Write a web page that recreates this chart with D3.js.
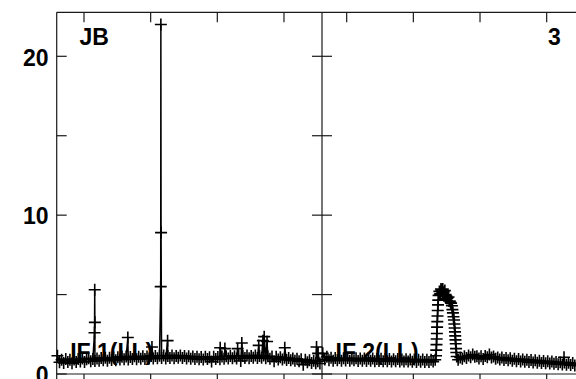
<!DOCTYPE html>
<html><head><meta charset="utf-8">
<script src="https://cdn.jsdelivr.net/npm/d3@7"></script>
<style>
body{margin:0;background:#fff}
svg{display:block}
text{font-family:"Liberation Sans",Arial,Helvetica,sans-serif;font-weight:bold;fill:#000}
</style>
</head><body>
<svg id="c" width="576" height="379"></svg>
<script>
// ---------- data ----------
const panelNames = ["IF 1(LL)", "IF 2(LL)"];
const sourceLabel = "JB";
const pageLabel = "3";
const yTickLabels = [0, 10, 20];
const yTickMarks = [0, 5, 10, 15, 20];
const xTickChannels = [128, 256, 384, 512];
const chanDomain1 = [75.6, 585];
const chanDomain2 = [80.6, 590];
const baseChanStart1 = 77, baseChanStart2 = 82, baseChanStep = 4;

// IF 1 amplitudes, every 4th channel starting at channel 77
const amp1 = [
1.15,0.74,0.90,0.70,0.94,0.76,0.89,0.68,0.92,0.75,
0.94,0.78,0.97,0.76,0.93,0.99,0.80,0.94,0.82,0.97,
0.84,1.01,0.86,1.02,0.83,1.03,0.88,1.04,0.86,1.06,
0.91,1.08,0.93,1.10,0.92,1.07,0.95,1.11,0.93,1.09,
0.96,1.12,0.94,1.10,0.98,1.14,0.97,1.13,0.99,1.15,
1.00,1.16,0.98,1.14,1.01,1.17,0.99,1.13,1.02,1.16,
1.00,1.14,0.98,1.12,0.96,1.10,0.94,1.08,0.93,1.07,
0.92,1.09,0.94,1.06,0.78,1.08,0.95,1.07,0.93,1.10,
0.96,1.11,0.97,1.14,0.99,1.12,0.98,1.15,0.82,1.13,
1.01,1.16,0.99,1.14,1.02,1.17,1.00,1.14,1.03,1.16,
0.99,1.12,0.96,1.10,0.80,1.08,0.92,1.06,0.91,1.03,
0.88,1.01,0.86,0.98,0.83,0.96,0.80,0.93,0.58,0.90,
0.74,0.87,0.70,0.84,0.68,0.81,0.66
];
// IF 1 isolated spikes / outliers (channel, amplitude)
const extraChan1 = [148.2,148.6,148.9,212.2,258.5,275.3,275.6,276.0,288.5,389.5,398.5,423.0,431.0,463.5,471.5,474.0,479.5,513.5,574.5,577.5];
const extraAmp1  = [2.6,  5.3,  3.25, 2.3,  1.7,  5.5,  22.0, 8.9,  2.1,  1.65, 1.6,  1.6,  1.95, 1.8,  2.1,  2.35, 2.05, 1.65, 1.7,  1.3];

// IF 2 amplitudes, every 4th channel starting at channel 82
const amp2 = [
1.30,0.91,1.09,0.86,1.02,0.84,1.00,0.86,1.01,0.84,
0.99,0.85,1.00,0.83,0.98,0.86,0.99,0.82,0.97,0.84,
0.98,0.82,0.96,0.83,0.97,0.81,0.95,0.82,0.96,0.80,
0.94,0.81,0.95,0.79,0.93,0.80,0.94,0.78,0.92,0.79,
0.93,0.78,0.91,0.77,0.92,0.76,0.90,0.77,0.91,0.76,
0.89,0.76,0.90,0.78,0.90,3.30,5.20,5.30,5.15,5.00,
4.80,4.60,4.30,3.40,1.60,0.90,1.04,0.96,1.12,1.01,
1.16,1.06,1.22,1.08,1.12,0.98,1.12,0.94,1.14,1.06,
1.22,1.04,1.10,0.96,1.04,0.91,1.04,0.88,1.01,0.86,
0.99,0.84,0.96,0.81,0.94,0.79,0.92,0.77,0.90,0.75,
0.88,0.73,0.86,0.71,0.84,0.69,0.82,0.67,0.80,0.66,
0.78,0.64,0.76,0.62,0.74,0.60,0.73,0.58,0.71,0.56,
0.69,0.54,0.67,0.53,0.65,0.51,0.64
];
// IF 2 line-feature points (channel, amplitude)
const extraChan2 = [299.6,300.0,300.4,300.8,301.2,301.6,302.4,302.8,303.3,303.8,304.5,
  307.5,309.0,311.5,312.5,315.5,316.5,319.5,
  320.5,323.5,324.5,327.5,328.5,331.0,332.0,333.0,334.7,335.3,335.9,336.4,336.9,337.4,338.5,339.2,
  545.3];
const extraAmp2  = [1.15,1.5,1.85,2.2,2.55,2.95,3.65,4.0,4.35,4.65,4.95,
  5.05,5.35,5.1,5.35,5.0,5.25,4.9,
  4.75,4.85,4.6,4.5,4.45,4.05,3.85,3.6,3.15,2.9,2.65,2.4,2.15,1.9,1.35,1.1,
  1.05];

// ---------- layout ----------
const frameLeft = 56.7, frameTop = 12.3, zeroY = 374, frameBottom = 384;
const panelW = 265.3;
const tickLen = 10, markSize = 6;

const svg = d3.select("#c");
const y = d3.scaleLinear().domain([0, 22.77]).range([zeroY, frameTop]);

function buildPoints(start, amps, ec, ea) {
  const pts = amps.map((v, i) => ({c: start + i * baseChanStep, v}));
  ec.forEach((c, i) => pts.push({c, v: ea[i]}));
  pts.sort((a, b) => a.c - b.c);
  return pts;
}

const panels = [
  {name: panelNames[0], dom: chanDomain1, pts: buildPoints(baseChanStart1, amp1, extraChan1, extraAmp1)},
  {name: panelNames[1], dom: chanDomain2, pts: buildPoints(baseChanStart2, amp2, extraChan2, extraAmp2)}
];

const frame = svg.append("g").attr("stroke", "#1a1a1a").attr("stroke-width", 1.2).attr("fill", "none");

panels.forEach((p, pi) => {
  const x0 = frameLeft + pi * panelW, x1 = x0 + panelW;
  p.x = d3.scaleLinear().domain(p.dom).range([x0, x1]);
  p.x0 = x0; p.x1 = x1;
  frame.append("line").attr("x1", x0).attr("x2", x1).attr("y1", frameTop).attr("y2", frameTop);
  frame.append("line").attr("x1", x0).attr("x2", x1).attr("y1", zeroY).attr("y2", zeroY);
  xTickChannels.forEach(t => {
    const xx = p.x(t);
    frame.append("line").attr("x1", xx).attr("x2", xx).attr("y1", frameTop).attr("y2", frameTop + tickLen);
    frame.append("line").attr("x1", xx).attr("x2", xx).attr("y1", zeroY).attr("y2", frameBottom);
  });
});

frame.append("line").attr("x1", frameLeft).attr("x2", frameLeft).attr("y1", frameTop).attr("y2", frameBottom);
const divX = frameLeft + panelW;
frame.append("line").attr("x1", divX).attr("x2", divX).attr("y1", frameTop).attr("y2", frameBottom);
yTickMarks.forEach(t => {
  const yy = y(t);
  frame.append("line").attr("x1", frameLeft).attr("x2", frameLeft + tickLen).attr("y1", yy).attr("y2", yy);
  frame.append("line").attr("x1", divX - tickLen).attr("x2", divX + tickLen).attr("y1", yy).attr("y2", yy);
});

svg.append("g").selectAll("text").data(yTickLabels).join("text")
  .attr("x", 48.5).attr("y", d => y(d) + 9.2)
  .attr("text-anchor", "end").attr("font-size", 23).text(d => d);

svg.append("text").attr("x", 79.5).attr("y", 45).attr("font-size", 23).text(sourceLabel);
svg.append("text").attr("x", 548).attr("y", 45).attr("font-size", 23).text(pageLabel);

panels.forEach(p => {
  svg.append("text").attr("x", p.x0 + 13.5).attr("y", 360).attr("font-size", 23).text(p.name);
});

panels.forEach(p => {
  const g = svg.append("g");
  const line = d3.line().x(d => p.x(d.c)).y(d => y(d.v));
  g.append("path").datum(p.pts).attr("d", line)
    .attr("fill", "none").attr("stroke", "#000").attr("stroke-width", 1.5);
  g.append("path")
    .attr("d", p.pts.map(d => {
      const xx = p.x(d.c), yy = y(d.v);
      return `M${xx - markSize},${yy}h${2 * markSize}M${xx},${yy - markSize}v${2 * markSize}`;
    }).join(""))
    .attr("fill", "none").attr("stroke", "#000").attr("stroke-width", 1.6);
});
</script>
</body></html>
